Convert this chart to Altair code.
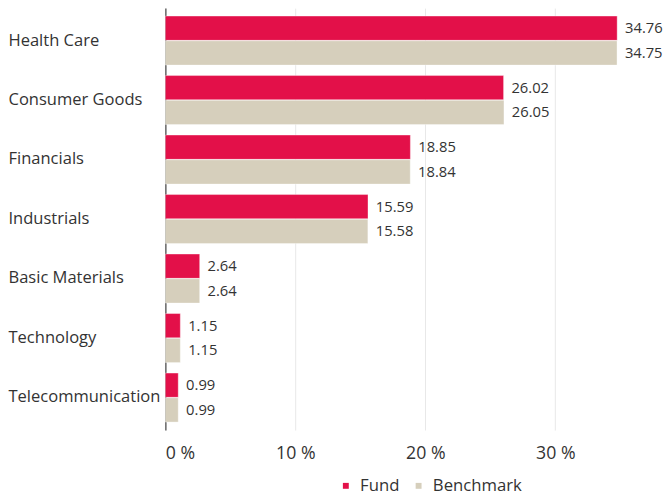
import altair as alt
import pandas as pd

categories = ["Health Care", "Consumer Goods", "Financials", "Industrials",
              "Basic Materials", "Technology", "Telecommunication"]
fund = [34.76, 26.02, 18.85, 15.59, 2.64, 1.15, 0.99]
benchmark = [34.75, 26.05, 18.84, 15.58, 2.64, 1.15, 0.99]
series = ["Fund", "Benchmark"]
colors = ["#E31049", "#D6CFBC"]
ticks = [0, 10, 20, 30]

rows = []
for c, f, b in zip(categories, fund, benchmark):
    rows.append({"category": c, "series": "Fund", "value": f})
    rows.append({"category": c, "series": "Benchmark", "value": b})
df = pd.DataFrame(rows)

FONT = "Open Sans"

y = alt.Y("category:N", sort=categories, title=None,
          scale=alt.Scale(paddingInner=0.176, paddingOuter=0.134),
          axis=alt.Axis(labelAlign="left", labelPadding=160, labelFontSize=16.8,
                        labelColor="#333333", labelFont=FONT, ticks=False,
                        domainColor="#666666", domainWidth=1.5, grid=False))
yoff = alt.YOffset("series:N", sort=series, scale=alt.Scale(paddingInner=0.02))
x = alt.X("value:Q", title=None,
          scale=alt.Scale(domain=[0, 37], nice=False),
          axis=alt.Axis(values=ticks, labelExpr="datum.value + ' %'", labelFontSize=18,
                        labelColor="#333333", labelFont=FONT, ticks=False, domain=False,
                        grid=True, gridColor="#e8e8e8", labelPadding=15))

bars = alt.Chart(df).mark_bar(stroke="white", strokeWidth=0.6, strokeOpacity=0.6).encode(
    y=y, yOffset=yoff, x=x,
    color=alt.Color("series:N", sort=series,
                    scale=alt.Scale(domain=series, range=colors),
                    legend=alt.Legend(title=None, orient="none", direction="horizontal",
                                      legendX=175, legendY=477, padding=0,
                                      symbolType="square", symbolSize=36,
                                      labelFontSize=17, labelFont=FONT, labelColor="#333333",
                                      labelOffset=6, columnPadding=10, symbolStrokeWidth=0)),
)

labels = alt.Chart(df).mark_text(align="left", dx=8, fontSize=15, font=FONT,
                                 color="#333333").encode(
    y=alt.Y("category:N", sort=categories), yOffset=alt.YOffset("series:N", sort=series),
    x="value:Q", text=alt.Text("value:Q", format=".2f"),
)

chart = alt.layer(bars, labels).properties(
    width=489, height=429, padding={"left": 0, "top": -4, "right": 0, "bottom": 0}
).configure_view(stroke=None)

chart.save("out.html", embed_options={"renderer": "svg", "actions": False})
